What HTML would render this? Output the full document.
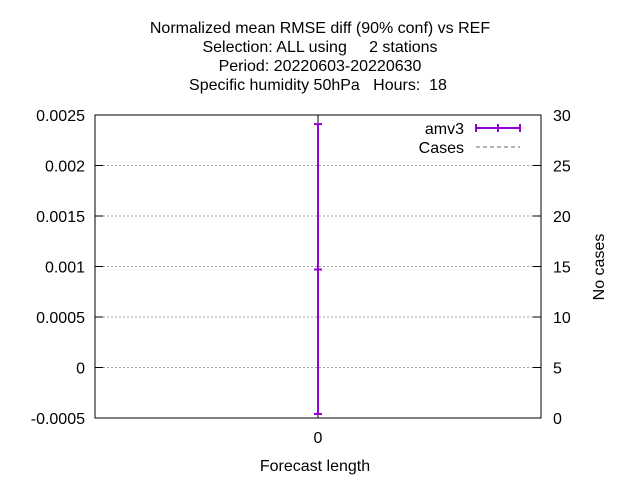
<!DOCTYPE html>
<html><head><meta charset="utf-8"><style>
body{margin:0;background:#fff;}
svg text{font-family:"Liberation Sans",sans-serif;font-size:16px;fill:#000;white-space:pre;}
</style></head><body>
<svg id="chart" width="640" height="480" xmlns="http://www.w3.org/2000/svg">
<g text-anchor="middle">
<text x="320" y="33">Normalized mean RMSE diff (90% conf) vs REF</text>
<text x="320" y="52" xml:space="preserve">Selection: ALL using     2 stations</text>
<text x="320" y="71">Period: 20220603-20220630</text>
<text x="318" y="90" xml:space="preserve">Specific humidity 50hPa   Hours:  18</text>
</g>
<g id="grid"></g>
<g id="axes"></g>
<g id="marks"></g>
<text x="315" y="471" text-anchor="middle">Forecast length</text>
<text transform="translate(604,267) rotate(-90)" text-anchor="middle">No cases</text>
<g>
<text x="464" y="134" text-anchor="end">amv3</text>
<line x1="476" y1="128" x2="520" y2="128" stroke="#9400d3" stroke-width="2"/>
<line x1="476" y1="124" x2="476" y2="132" stroke="#9400d3" stroke-width="2"/>
<line x1="498" y1="124" x2="498" y2="132" stroke="#9400d3" stroke-width="2"/>
<line x1="520" y1="124" x2="520" y2="132" stroke="#9400d3" stroke-width="2"/>
<text x="464" y="153" text-anchor="end">Cases</text>
<line x1="476" y1="147" x2="520" y2="147" stroke="#999" stroke-width="1.5" stroke-dasharray="4,3"/>
</g>
</svg>
<script>
const categories=[0];
const centers=[0.00097];
const lows=[-0.00046];
const highs=[0.00241];
const yTicks=[-0.0005,0,0.0005,0.001,0.0015,0.002,0.0025];
const yTickLabels=["-0.0005","0","0.0005","0.001","0.0015","0.002","0.0025"];
const y2Ticks=[0,5,10,15,20,25,30];

const L=95,R=541,T=115,B=418;
const NS="http://www.w3.org/2000/svg";
const y=v=>B-(v-(-0.0005))/(0.003)*(B-T);
const y2=v=>B-v/30*(B-T);
const x=v=>L+(v-(-1))/2*(R-L);
function mk(tag,attrs,parent){const e=document.createElementNS(NS,tag);for(const k in attrs)e.setAttribute(k,attrs[k]);document.getElementById(parent).appendChild(e);return e;}

yTicks.forEach((t,i)=>{
 if(i>0&&i<yTicks.length-1){const g=mk('line',{x1:L,x2:R,y1:y(t),y2:y(t),stroke:'#a0a0a0','stroke-width':1,'stroke-dasharray':'2,2'},'grid');
 
 }
 mk('line',{x1:L,x2:L+8,y1:y(t),y2:y(t),stroke:'#000'},'axes');
 const tx=mk('text',{x:L-10,y:y(t)+6,'text-anchor':'end'},'axes');tx.textContent=yTickLabels[i];
 
 
});
y2Ticks.forEach(t=>{
 mk('line',{x1:R-8,x2:R,y1:y2(t),y2:y2(t),stroke:'#000'},'axes');
 const tx=mk('text',{x:R+12,y:y2(t)+6,'text-anchor':'start'},'axes');tx.textContent=t;
 
 
});
categories.forEach(c=>{
 mk('line',{x1:x(c),x2:x(c),y1:B,y2:B-8,stroke:'#000'},'axes');
 mk('line',{x1:x(c),x2:x(c),y1:T,y2:T+8,stroke:'#000'},'axes');
 const tx=mk('text',{x:x(c),y:B+25,'text-anchor':'middle'},'axes');tx.textContent=c;
 
 
});
const fr=mk('rect',{x:L,y:T,width:R-L,height:B-T,fill:'none',stroke:'#000','stroke-width':1},'axes');


categories.forEach((c,i)=>{
 const cx=x(c);
 const l=mk('line',{x1:cx,x2:cx,y1:y(highs[i]),y2:y(lows[i]),stroke:'#9400d3','stroke-width':2},'marks');
 
 
 [highs[i],lows[i],centers[i]].forEach(v=>{
  const cap=mk('line',{x1:cx-4,x2:cx+4,y1:y(v),y2:y(v),stroke:'#9400d3','stroke-width':2},'marks');
  
  
 });
});
</script>
</body></html>
